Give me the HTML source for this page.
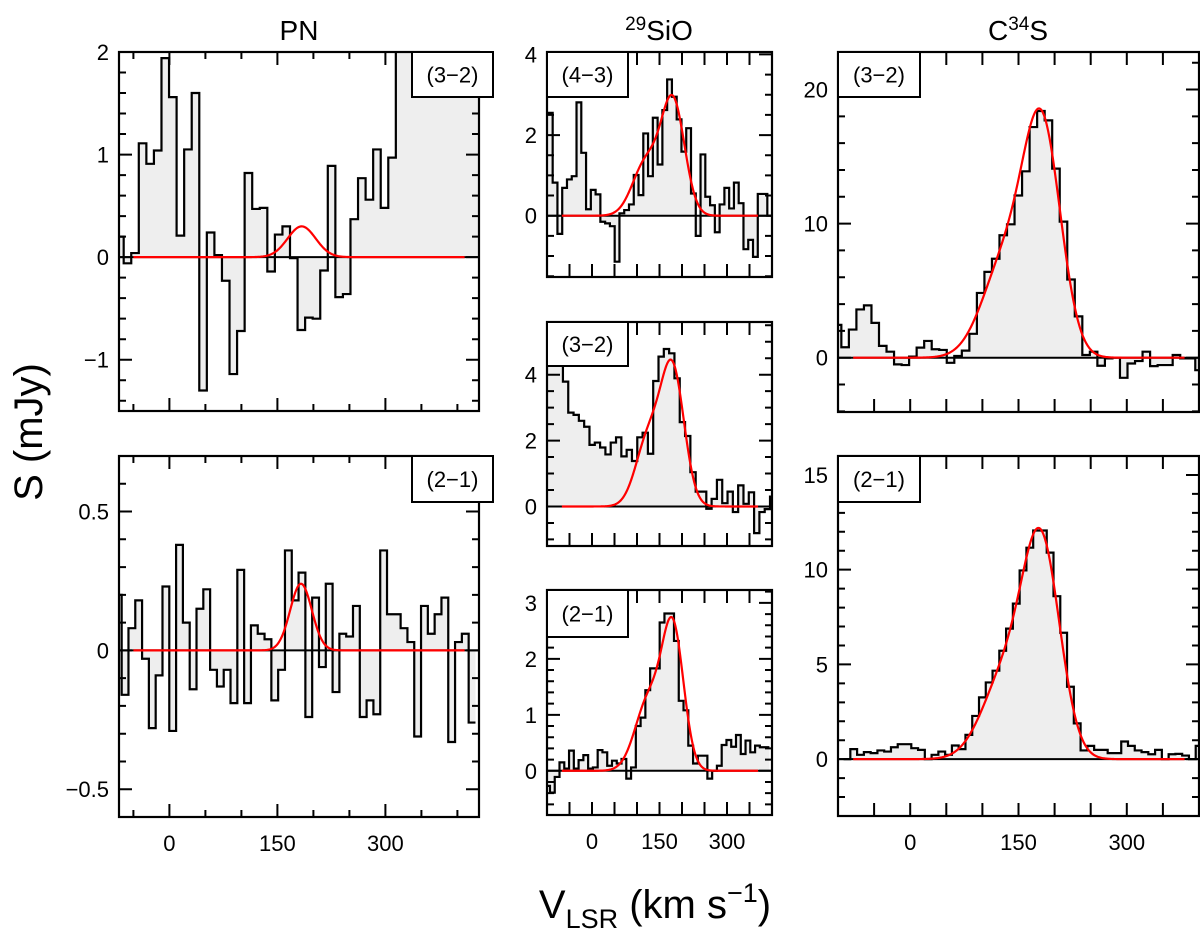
<!DOCTYPE html>
<html><head><meta charset="utf-8">
<style>
html,body{margin:0;padding:0;background:#fff;}
svg{display:block;font-family:"Liberation Sans",sans-serif;}
</style></head>
<body>
<svg id="fig" width="1200" height="939" viewBox="0 0 1200 939" xmlns="http://www.w3.org/2000/svg">
  <text x="299" y="40" font-size="28" text-anchor="middle">PN</text>
  <text x="659" y="40" font-size="28" text-anchor="middle"><tspan font-size="19" dy="-10">29</tspan><tspan dy="10">SiO</tspan></text>
  <text x="1018" y="40" font-size="28" text-anchor="middle">C<tspan font-size="19" dy="-10">34</tspan><tspan dy="10">S</tspan></text>
  <text x="0" y="0" font-size="40" text-anchor="middle" transform="translate(42,432) rotate(-90)">S  (mJy)</text>
  <text x="655" y="918" font-size="40" text-anchor="middle">V<tspan font-size="27" dy="10">LSR</tspan><tspan dy="-10">  (km  s</tspan><tspan font-size="27" dy="-16">−1</tspan><tspan dy="16">)</tspan></text>
  <g id="panels"></g>
</svg>
<script>
// ---- data ----
const pn32Vals = [0.2,-0.06,0.04,1.11,0.91,1.04,1.94,1.56,0.21,1.05,1.6,-1.3,0.24,0.02,-0.23,-1.14,-0.72,0.82,0.47,0.48,-0.14,0.22,0.3,-0.01,-0.71,-0.59,-0.6,-0.13,0.89,-0.39,-0.36,0.37,0.77,0.56,1.05,0.48,0.97,2.5,2.5,2.5,2.5,2.5,2.5,2.5,2.5,2.5,2.5,2.5];
const pn21Vals = [0.2,-0.16,0.08,0.18,-0.03,-0.28,-0.09,0.23,-0.29,0.38,0.1,-0.14,0.15,0.22,-0.07,-0.13,-0.07,-0.19,0.29,-0.19,0.09,0.06,0.04,-0.18,-0.07,0.36,0.18,0.28,-0.24,0.19,-0.06,0.24,-0.15,0.06,0.05,0.16,-0.24,-0.18,-0.23,0.36,0.13,0.13,0.08,0.03,-0.31,0.16,0.06,0.13,0.19,-0.33,0.03,0.06,-0.26];
const sio43Vals = [2.55,0.82,-0.45,0.69,0.9,0.98,2.81,1.56,0.16,0.64,0.53,-0.15,-0.19,-0.26,-1.14,0.06,0.14,0.28,1.01,0.51,2.04,0.98,2.43,1.27,2.62,3.38,2.95,2.39,1.59,2.17,0.55,-0.5,1.52,0.47,0.26,-0.41,0.28,0.69,0.18,0.82,0.31,-0.83,-0.6,-1.02,0.54,0.54,0];
const sio32Vals = [4.6,4.5,4.3,3.79,2.85,2.78,2.6,2.42,1.87,1.94,1.79,1.58,1.94,2.10,1.52,1.72,1.38,2.1,2.24,1.6,3.81,4.55,4.78,4.65,3.89,2.56,2.14,1.04,0.45,0.45,-0.07,0.23,0.81,0.1,0.45,-0.17,0.64,0.08,0.43,-0.81,-0.17,-0.08,0.3];
const sio21Vals = [-0.27,-0.39,-0.11,0.15,0.04,0.36,0.04,0.19,0.28,0.04,0.06,0.37,0.33,0.09,0.18,0.13,0.21,-0.14,0.06,0.8,0.95,1.44,1.83,1.83,2.65,2.81,2.81,2.32,1.25,1.08,0.45,0.13,0.27,0.27,-0.14,0,0.09,0.46,0.55,0.43,0.64,0.3,0.54,0.33,0.45,0.42,0.42];
const c32Vals = [2.45,0.78,2.1,3.6,3.9,2.6,0.88,0.45,-0.5,-0.55,0.08,0.75,1.25,0.63,0.58,-0.38,0.13,0.53,1.78,4.83,6.4,7.38,9.13,9.95,12.1,13.9,17.2,18.4,17.7,14.1,10.15,5.83,3.08,0.2,0.45,-0.6,-0.05,0,-1.5,-0.43,-0.25,0.45,-0.63,-0.55,-0.55,0.2,-0.05,-0.05,-0.93];
const c21Vals = [0,0.53,0.23,0.37,0.32,0.46,0.4,0.63,0.79,0.79,0.58,0.49,0,0.23,0.4,0.23,0.72,0.53,1.28,2.28,3.26,4.05,4.67,5.72,6.89,8.21,9.96,11.16,12.07,12.07,10.9,8.6,6.67,3.82,1.89,0.46,0.7,0.49,0.49,0.32,0.32,0.93,0.7,0.46,0.37,0.26,0.49,0,0.26,0.28,0.19,0,0.7];

// channel start velocity and width (km/s)
const pn32Chan = [-74, 10.5];
const pn21Chan = [-75.75, 9.45];
const sio43Chan = [-98, 10.6];
const sio32Chan = [-100, 11.8];
const sio21Chan = [-104, 10.6];
const c32Chan = [-105.8, 10.43];
const c21Chan = [-92.3, 9.38];

// gaussian fit components: amplitudes, centers, sigmas
const pn32Amp=[0.3], pn32Mu=[183.7], pn32Sig=[19.5];
const pn21Amp=[0.24], pn21Mu=[182.8], pn21Sig=[15];
const sio43Amp=[2.8,1.3], sio43Mu=[180,120], sio43Sig=[26,30];
const sio32Amp=[4.1,2.0], sio32Mu=[179,125], sio32Sig=[26,28];
const sio21Amp=[2.47,1.25], sio21Mu=[180,126], sio21Sig=[24,30];
const c32Amp=[16.4,7], c32Mu=[183,132], c32Sig=[26,32];
const c21Amp=[10.8,4.3], c21Mu=[182,132], c21Sig=[26,32];

// tick label values
const pn32YLabels=[2,1,0,-1], pn21YLabels=[0.5,0,-0.5];
const sio43YLabels=[4,2,0], sio32YLabels=[4,2,0], sio21YLabels=[3,2,1,0];
const c32YLabels=[20,10,0], c21YLabels=[15,10,5,0];
const xLabels=[0,150,300];

const NS="http://www.w3.org/2000/svg";
const root=document.getElementById('panels');
function mk(tag,attrs,parent){const e=document.createElementNS(NS,tag);for(const k in attrs)e.setAttribute(k,attrs[k]);(parent||root).appendChild(e);return e;}
function fmt(v){return v<0?'−'+String(-v):String(v);}

const panels=[
 {id:'pn-32',vals:pn32Vals,chan:pn32Chan,amp:pn32Amp,mu:pn32Mu,sig:pn32Sig,x0:119,x1:479,y0:52,y1:411,xr:[-70,430],yr:[-1.5,2],ylab:pn32YLabels,ymin:0.2,label:'(3−2)',box:[412,52,81,45],xl:false,fit:[-50,410],pnTicks:true},
 {id:'pn-21',vals:pn21Vals,chan:pn21Chan,amp:pn21Amp,mu:pn21Mu,sig:pn21Sig,x0:119,x1:479,y0:456,y1:817,xr:[-70,430],yr:[-0.6,0.7],ylab:pn21YLabels,ymin:0.1,label:'(2−1)',box:[412,456,81,46],xl:true,fit:[-50,410],pnTicks:true},
 {id:'sio-43',vals:sio43Vals,chan:sio43Chan,amp:sio43Amp,mu:sio43Mu,sig:sio43Sig,x0:547,x1:772,y0:52,y1:277,xr:[-100,400],yr:[-1.52,4.06],ylab:sio43YLabels,ymin:0.5,label:'(4−3)',box:[547,52,81,45],xl:false,fit:[-67,369]},
 {id:'sio-32',vals:sio32Vals,chan:sio32Chan,amp:sio32Amp,mu:sio32Mu,sig:sio32Sig,x0:547,x1:772,y0:322,y1:546,xr:[-100,400],yr:[-1.2,5.6],ylab:sio32YLabels,ymin:0.5,label:'(3−2)',box:[547,322,81,44],xl:false,fit:[-67,369]},
 {id:'sio-21',vals:sio21Vals,chan:sio21Chan,amp:sio21Amp,mu:sio21Mu,sig:sio21Sig,x0:547,x1:772,y0:590,y1:815,xr:[-100,400],yr:[-0.79,3.23],ylab:sio21YLabels,ymin:0.2,label:'(2−1)',box:[547,590,81,47],xl:true,fit:[-67,369]},
 {id:'c34s-32',vals:c32Vals,chan:c32Chan,amp:c32Amp,mu:c32Mu,sig:c32Sig,x0:838,x1:1199,y0:52,y1:412,xr:[-100,400],yr:[-4.05,22.8],ylab:c32YLabels,ymin:2,label:'(3−2)',box:[838,52,82,45],xl:false,fit:[-79,380]},
 {id:'c34s-21',vals:c21Vals,chan:c21Chan,amp:c21Amp,mu:c21Mu,sig:c21Sig,x0:838,x1:1199,y0:456,y1:816,xr:[-100,400],yr:[-3,16],ylab:c21YLabels,ymin:1,label:'(2−1)',box:[838,456,82,46],xl:true,fit:[-79,380]}
];

panels.forEach(p=>{
  const X=v=>p.x0+(v-p.xr[0])/(p.xr[1]-p.xr[0])*(p.x1-p.x0);
  const Y=s=>p.y1-(s-p.yr[0])/(p.yr[1]-p.yr[0])*(p.y1-p.y0);
  const g=mk('g',{});
  
  
  const cp=mk('clipPath',{id:'clip-'+p.id},g);
  mk('rect',{x:p.x0,y:p.y0,width:p.x1-p.x0,height:p.y1-p.y0},cp);
  const inner=mk('g',{'clip-path':'url(#clip-'+p.id+')'},g);
  const y0=Y(0);
  let d='', fd='M'+X(p.chan[0])+','+y0;
  p.vals.forEach((v,i)=>{
    const a=X(p.chan[0]+i*p.chan[1]), b=X(p.chan[0]+(i+1)*p.chan[1]), y=Y(v);
    d+=(i===0?'M':'L')+a+','+y+'L'+b+','+y;
    fd+='L'+a+','+y+'L'+b+','+y;
  });
  fd+='L'+X(p.chan[0]+p.vals.length*p.chan[1])+','+y0+'Z';
  const fill=mk('path',{d:fd,fill:'#eeeeee',stroke:'none'},inner);
  
  
  const base=mk('line',{x1:p.x0,x2:p.x1,y1:y0,y2:y0,stroke:'#000','stroke-width':2},inner);
  
  
  const st=mk('path',{d:d,fill:'none',stroke:'#000','stroke-width':2.2,'stroke-linejoin':'miter'},inner);
  
  
  let fdp='';
  for(let v=p.fit[0];v<=p.fit[1];v+=1){
    let s=0;for(let k=0;k<p.amp.length;k++)s+=p.amp[k]*Math.exp(-Math.pow(v-p.mu[k],2)/(2*p.sig[k]*p.sig[k]));
    fdp+=(fdp?'L':'M')+X(v).toFixed(2)+','+Y(s).toFixed(2);
  }
  const fit=mk('path',{d:fdp,fill:'none',stroke:'#ff0000','stroke-width':2.2},inner);
  
  
  let td='';
  for(let v=Math.ceil(p.xr[0]/50)*50;v<=p.xr[1];v+=50){
    const x=X(v); const len=(p.pnTicks&&v%150!==0)?7:13;
    td+='M'+x+','+p.y1+'v'+(-len)+'M'+x+','+p.y0+'v'+len;
  }
  const maj=p.ylab[0]-p.ylab[1];
  const n0=Math.ceil(p.yr[0]/p.ymin-1e-6), n1=Math.floor(p.yr[1]/p.ymin+1e-6);
  for(let n=n0;n<=n1;n++){
    const v=n*p.ymin; const y=Y(v);
    const isMaj=Math.abs(v/maj-Math.round(v/maj))<1e-6;
    const len=isMaj?13:7;
    td+='M'+p.x0+','+y+'h'+len+'M'+p.x1+','+y+'h'+(-len);
  }
  const ticks=mk('path',{d:td,stroke:'#000','stroke-width':2,fill:'none'},g);
  
  
  const fr=mk('rect',{x:p.x0,y:p.y0,width:p.x1-p.x0,height:p.y1-p.y0,fill:'none',stroke:'#000','stroke-width':2.2},g);
  
  
  p.ylab.forEach(v=>{
    const t=mk('text',{x:p.x0-10,y:Y(v)+8,'font-size':22,'text-anchor':'end'},g);
    t.textContent=fmt(v);
    
    
  });
  if(p.xl){
    xLabels.forEach(v=>{
      const t=mk('text',{x:X(v),y:p.y1+34,'font-size':22,'text-anchor':'middle'},g);
      t.textContent=String(v);
      
      
    });
  }
  const b=p.box;
  const br=mk('rect',{x:b[0],y:b[1],width:b[2],height:b[3],fill:'#fff',stroke:'#000','stroke-width':2},g);
  
  
  const bt=mk('text',{x:b[0]+b[2]/2,y:b[1]+b[3]/2+8,'font-size':22,'text-anchor':'middle'},g);
  bt.textContent=p.label;
  
  
});
</script>
</body></html>
